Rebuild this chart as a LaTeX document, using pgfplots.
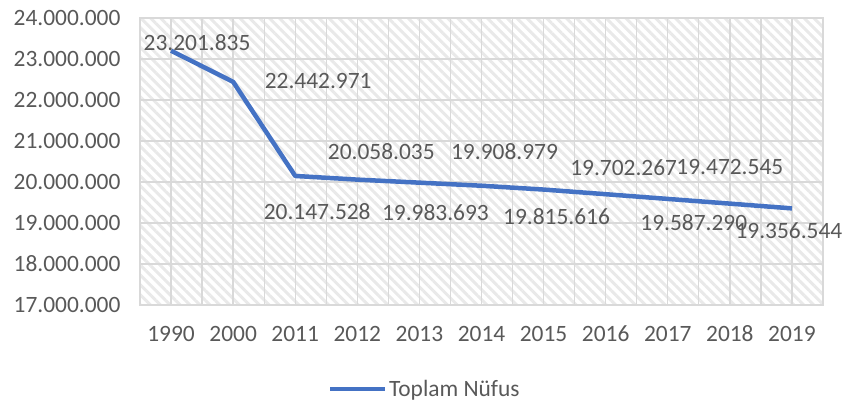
\documentclass[border=0pt]{standalone}
\usepackage{pgfplots}
\pgfplotsset{compat=1.18}
\usepackage{pgfplotstable}
\usepackage{fontspec}
\setmainfont{Carlito}
\usetikzlibrary{patterns.meta}
\definecolor{txt}{HTML}{595959}
\definecolor{gridc}{HTML}{D9D9D9}
\definecolor{hatchc}{HTML}{E9E9E9}
\definecolor{lineblue}{HTML}{4472C4}

\pgfplotstableread{
x year value label dx dy
0 1990 23201835 23.201.835 26 8
1 2000 22442971 22.442.971 85 1
2 2011 20147528 20.147.528 22 -36
3 2012 20058035 20.058.035 24 28
4 2013 19983693 19.983.693 16 -30
5 2014 19908979 19.908.979 23 34
6 2015 19815616 19.815.616 13 -27
7 2016 19702267 19.702.267 18 27
8 2017 19587290 19.587.290 26 -24
9 2018 19472545 19.472.545 0 37
10 2019 19356544 19.356.544 -3 -22
}\datatable

\begin{document}
\begin{tikzpicture}
\path[use as bounding box] (0,0) rectangle (848bp,402bp);
\begin{axis}[
  at={(140bp,97bp)}, anchor=south west,
  scale only axis,
  width=683bp, height=287bp,
  xmin=-0.5, xmax=10.5,
  ymin=17000000, ymax=24000000,
  scaled y ticks=false,
  xtick={0,...,10},
  xticklabels={1990,2000,2011,2012,2013,2014,2015,2016,2017,2018,2019},
  minor xtick={-0.5,0.5,...,10.5},
  ytick={17000000,18000000,19000000,20000000,21000000,22000000,23000000,24000000},
  yticklabels={17.000.000,18.000.000,19.000.000,20.000.000,21.000.000,22.000.000,23.000.000,24.000.000},
  major tick length=0, minor tick length=0,
  tick style={draw=none},
  xmajorgrids, xminorgrids, ymajorgrids,
  grid style={draw=gridc, line width=1.3bp},
  minor grid style={draw=gridc, line width=1.3bp},
  axis line style={draw=gridc, line width=1.3bp},
  axis background/.style={pattern={Lines[angle=-45,distance=7bp,line width=3bp]}, pattern color=hatchc},
  tick label style={font=\fontsize{23.5}{28}\selectfont, text=txt},
  yticklabel style={anchor=east, xshift=-16bp},
  xticklabel style={anchor=base, yshift=-36bp},
  legend style={at={(axis description cs:0.417,-0.293)}, anchor=center, draw=none, fill=none,
    font=\fontsize{23.5}{28}\selectfont, text=txt, inner sep=0pt},
  legend image code/.code={\draw[#1, line width=4bp] (0bp,0bp) -- (55bp,0bp);},
  legend cell align=left,
  clip=false,
]
\addplot[color=lineblue, line width=4.5bp, line join=round, no marks,
  point meta=explicit symbolic,
  visualization depends on={\thisrow{dx} \as \dx},
  visualization depends on={\thisrow{dy} \as \dy},
  nodes near coords,
  every node near coord/.style={anchor=center, xshift=\dx bp, yshift=\dy bp,
    font=\fontsize{23.5}{28}\selectfont, text=txt, inner sep=0pt},
] table[x=x, y=value, meta=label] {\datatable};
\addlegendentry{Toplam Nüfus}
\end{axis}
\end{tikzpicture}
\end{document}
